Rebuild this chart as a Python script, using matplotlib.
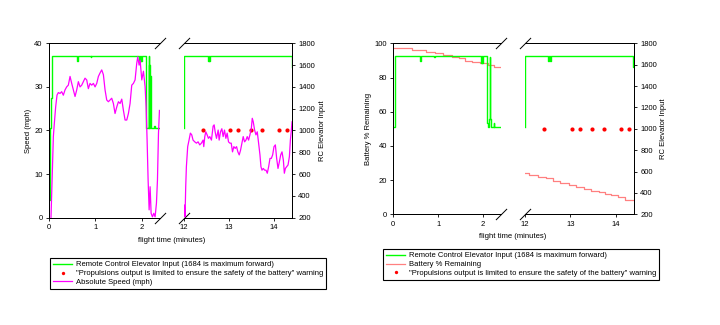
import numpy as np
import matplotlib
matplotlib.use("Agg")
import matplotlib.pyplot as plt
from matplotlib.lines import Line2D

plt.rcParams["font.family"] = ["Liberation Sans", "DejaVu Sans"]
plt.rcParams["font.size"] = 5.5

# --- data ---
# absolute speed (mph), first part of the flight
speed_t1 = [0.043, 0.072, 0.094, 0.115, 0.144, 0.173, 0.202, 0.238, 0.274, 0.310, 0.346, 0.382,
            0.418, 0.455, 0.491, 0.527, 0.563, 0.599, 0.635, 0.671, 0.707, 0.743, 0.779, 0.815,
            0.851, 0.887, 0.923, 0.960, 0.996, 1.032, 1.068, 1.104, 1.140, 1.176, 1.212, 1.248,
            1.284, 1.320, 1.356, 1.392, 1.428, 1.465, 1.501, 1.537, 1.573, 1.609, 1.645, 1.681,
            1.717, 1.753, 1.789, 1.825, 1.861, 1.897, 1.919, 1.948, 1.970, 2.006, 2.042, 2.078,
            2.100, 2.121, 2.143, 2.165, 2.186, 2.208, 2.237, 2.265, 2.294, 2.323, 2.345, 2.367,
            2.388]
speed_v1 = [0.0, 10.5, 18.6, 21.6, 25.4, 28.1, 28.7, 28.5, 28.9, 28.1, 29.3, 30.0,
            30.4, 32.4, 30.8, 29.3, 27.8, 29.3, 31.2, 30.0, 30.4, 31.2, 32.0, 31.6,
            29.6, 30.8, 30.4, 30.8, 30.0, 30.8, 32.4, 33.2, 33.9, 32.8, 29.3, 27.0,
            26.6, 27.0, 27.4, 26.2, 23.9, 25.4, 26.6, 26.2, 27.2, 24.6, 22.4, 22.4,
            23.9, 26.2, 30.4, 30.8, 31.6, 35.4, 36.9, 35.0, 36.1, 31.6, 33.6, 30.0,
            25.4, 17.8, 8.6, 1.8, 7.1, 1.0, 0.2, 1.0, 0.2, 3.3, 8.6, 19.3,
            24.6]
# absolute speed (mph), end of the flight
speed_t2 = [12.0, 12.008, 12.023, 12.038, 12.053, 12.082, 12.112, 12.142, 12.172, 12.201, 12.239,
            12.276, 12.313, 12.350, 12.387, 12.424, 12.439, 12.462, 12.484, 12.514, 12.543, 12.573,
            12.610, 12.647, 12.670, 12.692, 12.722, 12.759, 12.781, 12.811, 12.841, 12.870, 12.900,
            12.930, 12.959, 12.989, 13.019, 13.049, 13.078, 13.108, 13.138, 13.168, 13.197, 13.227,
            13.257, 13.287, 13.316, 13.346, 13.376, 13.405, 13.435, 13.465, 13.495, 13.517, 13.539,
            13.569, 13.599, 13.628, 13.658, 13.688, 13.710, 13.733, 13.762, 13.792, 13.822, 13.851,
            13.881, 13.911, 13.940, 13.970, 14.000, 14.030, 14.059, 14.089, 14.119, 14.149, 14.178,
            14.208, 14.230, 14.253, 14.282, 14.312, 14.342, 14.364, 14.386, 14.401]
speed_v2 = [1.0, 2.9, 0.2, 7.1, 11.7, 16.3, 17.8, 19.4, 19.0, 17.8, 17.4,
            17.1, 17.4, 16.7, 17.1, 17.8, 16.3, 18.6, 19.7, 19.0, 18.2, 18.6,
            17.8, 21.0, 21.3, 19.7, 18.2, 20.1, 17.8, 19.7, 20.4, 18.6, 20.1,
            18.2, 19.4, 17.4, 17.1, 17.1, 15.1, 16.3, 15.9, 16.3, 15.1, 14.4,
            15.5, 17.1, 18.6, 17.4, 17.8, 18.6, 17.8, 19.0, 20.4, 22.8, 22.0,
            20.1, 19.0, 19.7, 17.1, 14.4, 11.7, 10.9, 11.3, 10.9, 10.9, 10.2,
            11.7, 13.6, 13.6, 14.4, 16.3, 16.7, 13.6, 11.3, 12.8, 14.4, 15.1,
            13.2, 10.2, 11.3, 11.7, 12.1, 14.0, 17.8, 20.1, 22.0]

# RC elevator input, flight on the speed chart
rc_a_t1 = [0.0, 0.02, 0.05, 0.07, 0.60, 0.62, 0.90, 0.91, 1.95, 1.97, 1.98, 2.00, 2.01,
           2.10, 2.16, 2.165, 2.17, 2.18, 2.19, 2.195, 2.28, 2.29, 2.40]
rc_a_v1 = [360, 1020, 1300, 1684, 1640, 1684, 1670, 1684, 1630, 1684, 1640, 1684, 1684,
           1020, 1684, 1020, 1600, 1020, 1500, 1020, 1040, 1020, 1020]
rc_a_t2 = [12.0, 12.005, 12.53, 12.545, 12.56, 12.575, 14.39, 14.40]
rc_a_v2 = [1020, 1684, 1640, 1684, 1640, 1684, 1580, 1580]

# RC elevator input, flight on the battery chart
rc_b_t1 = [0.0, 0.04, 0.60, 0.62, 0.91, 0.92, 1.95, 1.97, 1.98, 1.99, 2.09, 2.105,
           2.14, 2.15, 2.16, 2.17, 2.24, 2.25, 2.40]
rc_b_v1 = [1020, 1684, 1637, 1684, 1670, 1684, 1620, 1684, 1620, 1684, 1057, 1020,
           1090, 1670, 1090, 1020, 1050, 1020, 1020]
rc_b_t2 = [12.0, 12.005, 12.51, 12.525, 12.55, 12.565, 14.375, 14.40]
rc_b_v2 = [1020, 1684, 1637, 1684, 1637, 1684, 1580, 1580]

# battery % remaining
batt_t1 = [0.0, 0.42, 0.72, 0.92, 1.11, 1.31, 1.46, 1.59, 1.76, 1.93, 2.11, 2.24, 2.39]
batt_v1 = [97.1, 96.1, 95.1, 94.1, 93.2, 92.2, 91.2, 89.8, 88.8, 88.3, 87.3, 85.9, 85.9]
batt_t2 = [12.0, 12.097, 12.286, 12.459, 12.625, 12.776, 12.965, 13.115, 13.289, 13.455,
           13.621, 13.756, 13.892, 14.043, 14.209, 14.375]
batt_v2 = [24.0, 23.0, 22.0, 21.1, 19.7, 18.1, 16.9, 15.8, 14.6, 13.8,
           12.8, 11.7, 11.1, 9.9, 8.6, 8.6]

# "propulsion output limited" warnings
warn_t = [12.42, 13.03, 13.21, 13.48, 13.73, 14.11, 14.28]
warn_rc = [1000] * len(warn_t)

GREEN = "#00ff00"
MAGENTA = "#ff00ff"
RED = "#ff0000"
SALMON = "#ff8080"

fig = plt.figure(figsize=(7.2, 3.25), dpi=100)


def make_pair(x1, x2, y0, w1, w2, h):
    a = fig.add_axes([x1, y0, w1, h])
    b = fig.add_axes([x2, y0, w2, h])
    a2 = a.twinx()
    b2 = b.twinx()
    for ax in (a, b, a2, b2):
        ax.tick_params(length=2.5, width=0.6, pad=2, labelsize=5.5)
        for s in ax.spines.values():
            s.set_linewidth(0.7)
    a.spines["right"].set_visible(False)
    a2.spines["right"].set_visible(False)
    a2.set_yticks([])
    b.spines["left"].set_visible(False)
    b2.spines["left"].set_visible(False)
    b.tick_params(left=False, labelleft=False)
    a.set_xlim(0, 2.4)
    b.set_xlim(12, 14.4)
    a.set_xticks([0, 1, 2])
    b.set_xticks([12, 13, 14])
    for ax in (a2, b2):
        ax.set_ylim(200, 1800)
    b2.set_yticks(range(200, 1801, 200))
    # break marks
    kw = dict(marker=[(-1, -1), (1, 1)], markersize=8, linestyle="none",
              color="k", mec="k", mew=0.7, clip_on=False)
    a.plot([1, 1], [0, 1], transform=a.transAxes, **kw)
    b.plot([0, 0], [0, 1], transform=b.transAxes, **kw)
    return a, b, a2, b2


# ---------- left chart: speed ----------
a, b, a2, b2 = make_pair(49 / 720, 184 / 720, 1 - 217.7 / 325, 111 / 720, 108 / 720, 174.4 / 325)
for ax in (a, b):
    ax.set_ylim(0, 40)
a.set_yticks(range(0, 41, 10))

g1, = a2.plot(rc_a_t1, rc_a_v1, color=GREEN, lw=1.0, drawstyle="steps-post")
b2.plot(rc_a_t2, rc_a_v2, color=GREEN, lw=1.0, drawstyle="steps-post")
a2.set_zorder(a.zorder - 1)
a.patch.set_visible(False)
b2.set_zorder(b.zorder - 1)
b.patch.set_visible(False)
m1, = a.plot(speed_t1, speed_v1, color=MAGENTA, lw=0.9)
b.plot(speed_t2, speed_v2, color=MAGENTA, lw=0.9)
r1, = b2.plot(warn_t, warn_rc, "o", color=RED, ms=3, mew=0, zorder=5)

a.set_ylabel("Speed (mph)")
a.yaxis.set_label_coords(-0.153, 0.5)
b2.set_ylabel("RC Elevator Input")
b2.yaxis.set_label_coords(1.25, 0.5)
fig.text(172 / 720, 1 - 240 / 325, "flight time (minutes)", ha="center", va="center", fontsize=5.5)

leg1 = fig.legend([g1, r1, m1],
                  ["Remote Control Elevator Input (1684 is maximum forward)",
                   "\"Propulsions output is limited to ensure the safety of the battery\" warning",
                   "Absolute Speed (mph)"],
                  loc="upper left", bbox_to_anchor=(50 / 720, 1 - 258 / 325),
                  borderaxespad=0, fancybox=False, edgecolor="k", framealpha=1,
                  fontsize=5.5, handlelength=2.5, handletextpad=0.5, labelspacing=0.2,
                  borderpad=0.4, markerscale=0.8)
leg1.get_frame().set_linewidth(0.8)

# ---------- right chart: battery ----------
c, d, c2, d2 = make_pair(393.3 / 720, 525 / 720, 1 - 214.3 / 325, 107.7 / 720, 109 / 720, 171 / 325)
for ax in (c, d):
    ax.set_ylim(0, 100)
c.set_yticks(range(0, 101, 20))

s1, = c.plot(batt_t1, batt_v1, color=SALMON, lw=0.9, drawstyle="steps-post")
d.plot(batt_t2, batt_v2, color=SALMON, lw=0.9, drawstyle="steps-post")
g2, = c2.plot(rc_b_t1, rc_b_v1, color=GREEN, lw=1.0, drawstyle="steps-post")
d2.plot(rc_b_t2, rc_b_v2, color=GREEN, lw=1.0, drawstyle="steps-post")
r2, = d2.plot(warn_t, warn_rc, "o", color=RED, ms=3, mew=0, zorder=5)

c.set_ylabel("Battery % Remaining")
c.yaxis.set_label_coords(-0.198, 0.5)
d2.set_ylabel("RC Elevator Input")
d2.yaxis.set_label_coords(1.24, 0.5)
fig.text(513 / 720, 1 - 237 / 325, "flight time (minutes)", ha="center", va="center", fontsize=5.5)

leg2 = fig.legend([g2, s1, r2],
                  ["Remote Control Elevator Input (1684 is maximum forward)",
                   "Battery % Remaining",
                   "\"Propulsions output is limited to ensure the safety of the battery\" warning"],
                  loc="upper left", bbox_to_anchor=(383 / 720, 1 - 249 / 325),
                  borderaxespad=0, fancybox=False, edgecolor="k", framealpha=1,
                  fontsize=5.5, handlelength=2.5, handletextpad=0.5, labelspacing=0.2,
                  borderpad=0.4, markerscale=0.8)
leg2.get_frame().set_linewidth(0.8)

fig.savefig("out.png", dpi=100)
